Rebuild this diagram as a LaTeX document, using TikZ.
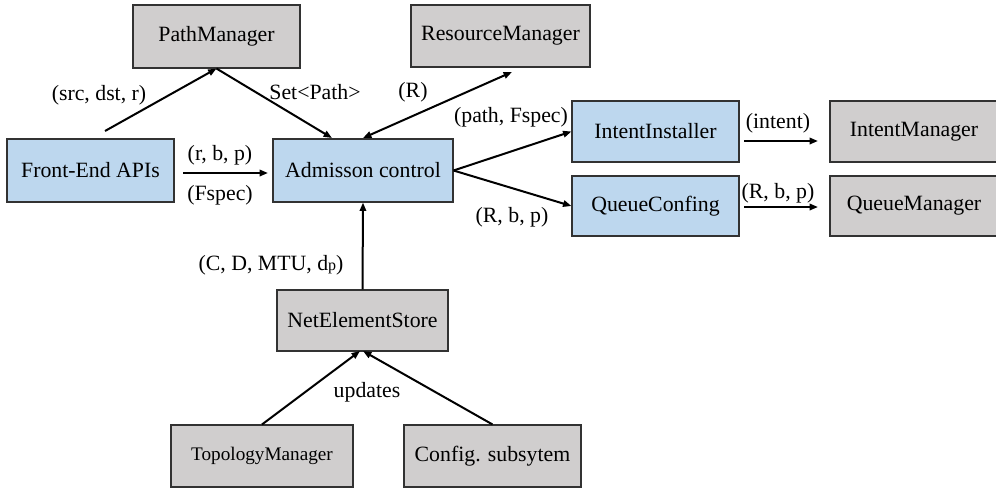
\documentclass[tikz,border=0pt]{standalone}
\usepackage{fontspec}
\setmainfont{Liberation Serif}
\usetikzlibrary{arrows.meta}

\definecolor{boxblue}{RGB}{189,215,238}
\definecolor{boxgray}{RGB}{208,206,206}
\definecolor{edgegray}{RGB}{50,50,50}

\tikzset{
  base/.style={draw=edgegray, line width=0.55pt, rectangle, inner sep=0pt,
    font=\fontsize{10.9}{13}\selectfont},
  bluebox/.style={base, fill=boxblue},
  graybox/.style={base, fill=boxgray},
  conn/.style={line width=1pt, -{Triangle[length=4.2pt,width=3.2pt]}},
  lbl/.style={inner sep=0pt, font=\fontsize{10.9}{13}\selectfont},
}

\begin{document}
\begin{tikzpicture}[x=0.5pt, y=-0.5pt]
\useasboundingbox (0,0) rectangle (996,489);
\begin{scope}
\clip (0,0) rectangle (996,489);

% component boxes
\node[graybox, minimum width=83.5pt, minimum height=31.5pt] (pm) at (216.5,36.5) {PathManager};
\node[graybox, minimum width=89.5pt, minimum height=31pt] (rm) at (500.5,36) {ResourceManager};
\node[bluebox, minimum width=83.5pt, minimum height=31.5pt] (fe) at (90.5,170.5) {Front-End APIs};
\node[bluebox, minimum width=90pt, minimum height=31.5pt] (ac) at (363,170.5) {Admisson control};
\node[bluebox, minimum width=83.5pt, minimum height=30.5pt] (ii) at (655.5,131.5) {IntentInstaller};
\node[bluebox, minimum width=83.5pt, minimum height=30pt] (qc) at (655.5,206) {QueueConfing};
\node[graybox, minimum width=84pt, minimum height=30.5pt] (im) at (914,131.5) {IntentManager};
\node[graybox, minimum width=84pt, minimum height=30pt] (qm) at (914,206) {QueueManager};
\node[graybox, minimum width=85.5pt, minimum height=30.5pt] (nes) at (362.5,320.5) {NetElementStore};
\node[graybox, minimum width=91pt, minimum height=31pt, font=\fontsize{9.6}{12}\selectfont] (tm) at (262,456) {TopologyManager};
\node[graybox, minimum width=88.5pt, minimum height=31pt] (cs) at (492.5,456) {Config. subsytem};
\end{scope}

% free arrow ends
\coordinate (feTop) at (105,131);
\coordinate (acTopL) at (332,138);
\coordinate (acTopM) at (363,138);
\coordinate (rmLow) at (512,72);
\coordinate (feOut) at (183,173);
\coordinate (acIn) at (268,173);
\coordinate (iiOut) at (744,141);
\coordinate (imIn) at (818,141);
\coordinate (qcOut) at (744,207);
\coordinate (qmIn) at (818,207);
\coordinate (nesInL) at (360,351);
\coordinate (nesInR) at (363,351);

% connectors
\draw[conn] (feTop) -- (pm.south);
\draw[conn] (pm.south) -- (acTopL);
\draw[conn, {Triangle[length=4.2pt,width=3.2pt]}-{Triangle[length=4.2pt,width=3.2pt]}] (acTopM) -- (rmLow);
\draw[conn] (feOut) -- (acIn);
\draw[conn] (ac.east) -- (ii.west);
\draw[conn] (ac.east) -- (qc.west);
\draw[conn] (iiOut) -- (imIn);
\draw[conn] (qcOut) -- (qmIn);
\draw[conn] (nes.north) -- (ac.south);
\draw[conn] (tm.north) -- (nesInL);
\draw[conn] (cs.north) -- (nesInR);

% connector labels
\node[lbl] (l1) at (99,95) {(src, dst, r)};
\node[lbl] (l2) at (315,92) {Set\textless Path\textgreater};
\node[lbl] (l3) at (413,92) {(R)};
\node[lbl] (l4) at (511,117) {(path, Fspec)};
\node[lbl] (l5) at (512,217) {(R, b, p)};
\node[lbl] (l6) at (220,155) {(r, b, p)};
\node[lbl] (l7) at (220,195) {(Fspec)};
\node[lbl] (l8) at (778,123) {(intent)};
\node[lbl] (l9) at (778,193) {(R, b, p)};
\node[lbl] (l10) at (271,265) {(C, D, MTU, d{\fontsize{8}{9}\selectfont p})};
\node[lbl] (l11) at (367,392) {updates};
\end{tikzpicture}
\end{document}
